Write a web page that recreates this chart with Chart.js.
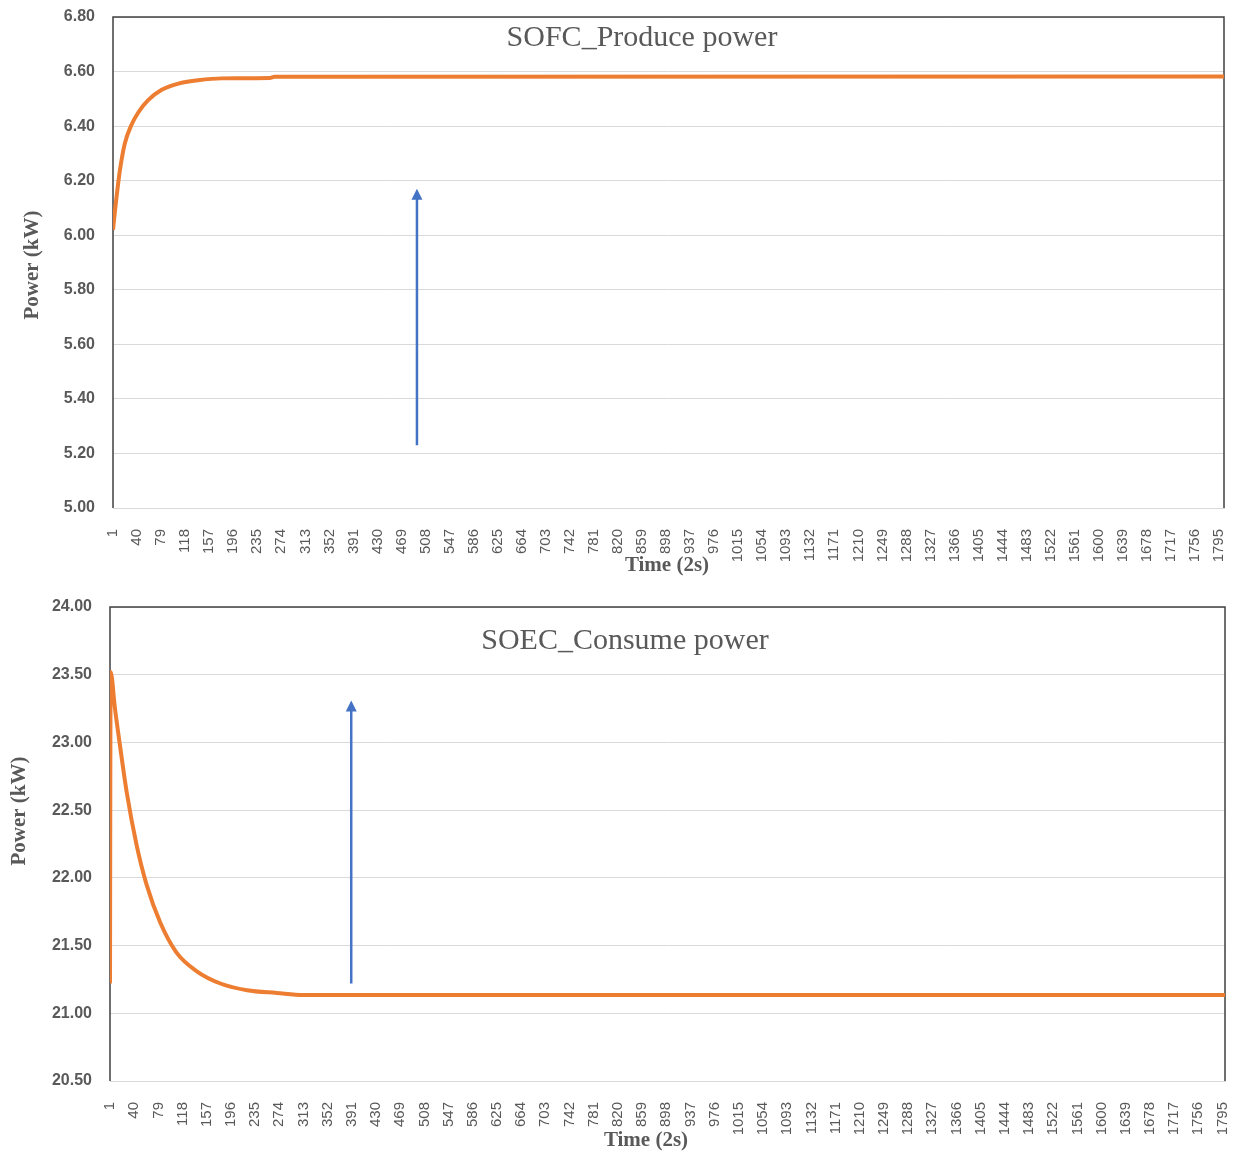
<!DOCTYPE html>
<html lang="en">
<head>
    <meta charset="UTF-8">
    <title>SOFC / SOEC power</title>
    <script src="https://cdn.jsdelivr.net/npm/chart.js"></script>
    <style>
        body { margin: 0; background: #fff; }
        .chart-box { position: absolute; left: 0; width: 1235px; }
        #top-box { top: 0; height: 585px; }
        #bottom-box { top: 585px; height: 567px; }
    </style>
</head>
<body>
    <div class="chart-box" id="top-box"><canvas id="sofcChart" width="1235" height="585"></canvas></div>
    <div class="chart-box" id="bottom-box"><canvas id="soecChart" width="1235" height="567"></canvas></div>

    <script>
        // x tick labels (every 39 samples)
        const timeTicks = [1, 40, 79, 118, 157, 196, 235, 274, 313, 352, 391, 430, 469, 508, 547, 586,
            625, 664, 703, 742, 781, 820, 859, 898, 937, 976, 1015, 1054, 1093, 1132, 1171, 1210,
            1249, 1288, 1327, 1366, 1405, 1444, 1483, 1522, 1561, 1600, 1639, 1678, 1717, 1756, 1795];

        // SOFC produce power (kW)
        const sofcTime  = [1, 4, 7, 12, 20, 31, 42, 58, 80, 107, 139, 177, 255, 263, 1803];
        const sofcPower = [6.02, 6.085, 6.145, 6.235, 6.335, 6.405, 6.45, 6.495, 6.533, 6.556, 6.568, 6.575, 6.576, 6.581, 6.582];

        // SOEC consume power (kW)
        const soecTime  = [1, 2, 9, 17, 28, 44, 60, 82, 108, 141, 179, 222, 270, 313, 1799];
        const soecPower = [21.22, 23.52, 23.25, 22.98, 22.63, 22.24, 21.95, 21.67, 21.45, 21.31, 21.22, 21.17, 21.15, 21.135, 21.135];

        // arrows: [time, from, to]
        const sofcArrow = [494, 5.23, 6.17];
        const soecArrow = [390, 21.22, 23.31];

        const grey = '#595959';

        // plot frame, inner title, axis titles and the arrow
        const decoPlugin = {
            id: 'deco',
            beforeDatasetsDraw(chart, args, opts) {
                const { ctx, chartArea: a } = chart;
                ctx.save();
                ctx.strokeStyle = '#404040';
                ctx.lineWidth = 1.5;
                ctx.beginPath();
                ctx.moveTo(a.left, a.bottom);
                ctx.lineTo(a.left, a.top);
                ctx.lineTo(a.right, a.top);
                ctx.lineTo(a.right, a.bottom);
                ctx.stroke();
                ctx.restore();
            },
            afterDraw(chart, args, opts) {
                const { ctx, scales } = chart;
                ctx.save();
                ctx.fillStyle = grey;
                ctx.textAlign = 'center';
                ctx.textBaseline = 'middle';
                ctx.font = '30px "Liberation Serif"';
                ctx.fillText(opts.title, opts.titlePos[0], opts.titlePos[1]);

                ctx.font = 'bold 21px "Liberation Serif"';
                ctx.fillText('Time (2s)', opts.xTitlePos[0], opts.xTitlePos[1]);
                ctx.save();
                ctx.translate(opts.yTitlePos[0], opts.yTitlePos[1]);
                ctx.rotate(-Math.PI / 2);
                ctx.fillText('Power (kW)', 0, 0);
                ctx.restore();

                // arrow
                const [t, v0, v1] = opts.arrow;
                const x = scales.x.getPixelForValue(t);
                const y0 = scales.y.getPixelForValue(v0);
                const y1 = scales.y.getPixelForValue(v1);
                ctx.strokeStyle = '#4472C4';
                ctx.fillStyle = '#4472C4';
                ctx.lineWidth = 2.5;
                ctx.beginPath();
                ctx.moveTo(x, y0);
                ctx.lineTo(x, y1 + 8);
                ctx.stroke();
                ctx.beginPath();
                ctx.moveTo(x, y1);
                ctx.lineTo(x - 5.5, y1 + 11);
                ctx.lineTo(x + 5.5, y1 + 11);
                ctx.closePath();
                ctx.fill();
                ctx.restore();
            }
        };

        function noPad(s) {
            s.paddingTop = 0;
            s.paddingBottom = 0;
            s.paddingLeft = 0;
            s.paddingRight = 0;
        }

        function makeChart(id, time, power, o) {
            return new Chart(document.getElementById(id), {
                type: 'line',
                data: {
                    datasets: [{
                        data: time.map((t, i) => ({ x: t, y: power[i] })),
                        borderColor: '#ED7D31',
                        borderWidth: 4,
                        pointRadius: 0,
                        cubicInterpolationMode: 'monotone',
                        fill: false
                    }]
                },
                options: {
                    responsive: false,
                    animation: false,
                    layout: { padding: { top: o.top, right: o.right, left: 0, bottom: 0 } },
                    plugins: {
                        legend: { display: false },
                        tooltip: { enabled: false },
                        deco: {
                            title: o.title,
                            titlePos: o.titlePos,
                            xTitlePos: o.xTitlePos,
                            yTitlePos: o.yTitlePos,
                            arrow: o.arrow
                        }
                    },
                    scales: {
                        x: {
                            type: 'linear',
                            min: 1,
                            max: o.xMax,
                            afterBuildTicks: s => { s.ticks = timeTicks.map(v => ({ value: v })); },
                            afterFit: s => { s.height = o.xHeight; noPad(s); },
                            grid: { display: false },
                            border: { color: '#d9d9d9', width: 1 },
                            ticks: {
                                autoSkip: false,
                                minRotation: 90,
                                maxRotation: 90,
                                padding: 13,
                                color: grey,
                                font: { family: 'Liberation Sans', size: 15 },
                                callback: v => String(v)
                            }
                        },
                        y: {
                            min: o.yMin,
                            max: o.yMax,
                            afterFit: s => { s.width = o.yWidth; noPad(s); },
                            grid: { color: '#d9d9d9', lineWidth: 1, drawTicks: false },
                            border: { display: false },
                            ticks: {
                                stepSize: o.yStep,
                                padding: 18,
                                color: grey,
                                font: { family: 'Liberation Sans', size: 16, weight: 'bold' },
                                callback: v => Number(v).toFixed(2)
                            }
                        }
                    }
                },
                plugins: [decoPlugin]
            });
        }

        makeChart('sofcChart', sofcTime, sofcPower, {
            top: 17, right: 11, yWidth: 113, xHeight: 77, xMax: 1803,
            yMin: 5, yMax: 6.8, yStep: 0.2,
            title: 'SOFC_Produce power', titlePos: [642, 38],
            xTitlePos: [667, 566], yTitlePos: [33, 265],
            arrow: sofcArrow
        });

        makeChart('soecChart', soecTime, soecPower, {
            top: 22, right: 10, yWidth: 110, xHeight: 71, xMax: 1799,
            yMin: 20.5, yMax: 24, yStep: 0.5,
            title: 'SOEC_Consume power', titlePos: [625, 56],
            xTitlePos: [646, 556], yTitlePos: [20, 226],
            arrow: soecArrow
        });
    </script>
</body>
</html>
